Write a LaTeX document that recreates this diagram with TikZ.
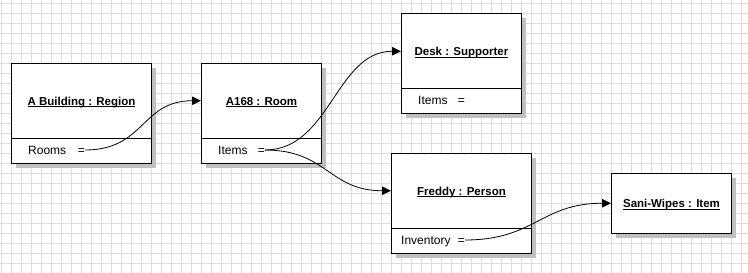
\documentclass[tikz,border=0pt]{standalone}
\usepackage{fontspec}
\setmainfont{Liberation Sans}
\usetikzlibrary{arrows.meta,shadows}
\definecolor{gridc}{RGB}{221,221,221}
\definecolor{shadowc}{RGB}{192,192,192}
\newcommand{\myul}[1]{\setbox0\hbox{#1}\rlap{\vrule width\wd0 height -1.1pt depth 2.1pt}\box0}
\begin{document}
\begin{tikzpicture}[x=1pt,y=-1pt,
 objbox/.style={draw, line width=1pt, fill=white, inner sep=0pt,
   general shadow={fill=shadowc, shadow xshift=4pt, shadow yshift=-4pt}},
 title/.style={anchor=base, inner sep=0pt, text height=8.5pt, text depth=0pt,
   font=\fontsize{11.5}{13}\selectfont\bfseries},
 attr/.style={anchor=base west, inner sep=0pt, font=\fontsize{12}{14}\selectfont},
 eq/.style={anchor=base east, inner sep=0pt, text height=9pt, text depth=0pt,
   font=\fontsize{12}{14}\selectfont},
 divider/.style={line width=1pt},
 link/.style={line width=0.8pt, -{Triangle[length=9pt,width=8.5pt]}}]
\useasboundingbox (0,0) rectangle (748,273);
\fill[white] (0,0) rectangle (748,273);
% grid
\foreach \x in {1,11,...,741} \draw[gridc, line width=1pt] (\x+0.5,0) -- (\x+0.5,273);
\foreach \y in {3,13,...,263} \draw[gridc, line width=1pt] (0,\y+0.5) -- (748,\y+0.5);
% boxes
\node[objbox, minimum width=140pt, minimum height=100pt] (bld) at (81.5,113.5) {};
\node[objbox, minimum width=120pt, minimum height=100pt] (room) at (261.5,113.5) {};
\node[objbox, minimum width=120pt, minimum height=100pt] (desk) at (461.5,63.5) {};
\node[objbox, minimum width=140pt, minimum height=100pt] (fred) at (461.5,203.5) {};
\node[objbox, minimum width=120pt, minimum height=60pt] (sani) at (671.5,203.5) {};
% dividers
\foreach \b in {bld,room,desk,fred}
  \draw[divider] ([yshift=26pt]\b.south west) -- ([yshift=26pt]\b.south east);
% titles
\node[title] (bldT) at (81.5,105) {\myul{A Building : Region}};
\node[title] (roomT) at (261.5,105) {\myul{A168 : Room}};
\node[title] (deskT) at (461.5,55.5) {\myul{Desk : Supporter}};
\node[title] (fredT) at (461.5,195) {\myul{Freddy : Person}};
\node[title] (saniT) at (671.5,207.5) {\myul{Sani-Wipes : Item}};
% attributes
\node[attr] (bldA) at (28,154.5) {Rooms};
\node[eq] (bldE) at (85,154.5) {=};
\node[attr] (roomA) at (218,154.5) {Items};
\node[eq] (roomE) at (265,154.5) {=};
\node[attr] (deskA) at (418,104.5) {Items};
\node[eq] (deskE) at (465,104.5) {=};
\node[attr] (fredA) at (401,244.5) {Inventory};
\node[eq] (fredE) at (465,244.5) {=};
% links
\draw[link] (bldE.east) .. controls +(60,0) and +(-60,0) .. (room.west |- roomT);
\draw[link] (roomE.east) .. controls +(65,0) and +(-65,0) .. (desk.west |- deskT);
\draw[link] (roomE.east) .. controls +(62,0) and +(-62,0) .. (fred.west |- fredT);
\draw[link] (fredE.east) .. controls +(70,0) and +(-70,0) .. (sani.west |- saniT);
\end{tikzpicture}
\end{document}
